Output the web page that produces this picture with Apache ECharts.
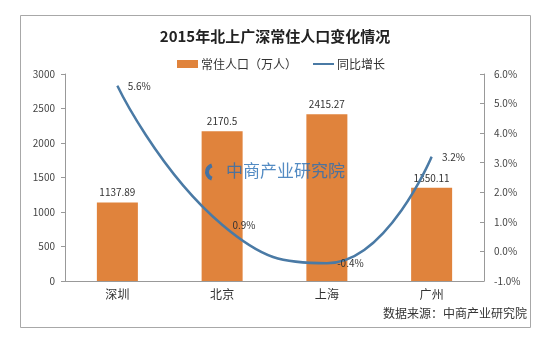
<!DOCTYPE html>
<html>
<head>
<meta charset="utf-8">
<script src="https://cdn.jsdelivr.net/npm/echarts@6/dist/echarts.min.js"></script>
<style>
  html, body { margin: 0; padding: 0; background: #fff; }
  #chart { width: 550px; height: 341px; }
</style>
</head>
<body>
<div id="chart"></div>
<script>
// 2015 resident population of the four first-tier cities and year-on-year growth
const cities = ['深圳', '北京', '上海', '广州'];
const population = [1137.89, 2170.5, 2415.27, 1350.11];   // 万人
const growth = [5.6, 0.9, -0.4, 3.2];                        // %
const popTicks = { min: 0, max: 3000, step: 500 };
const growthTicks = { min: -1, max: 6, step: 1 };

const FONT = '"Noto Sans CJK SC", "Microsoft YaHei", sans-serif';
const BAR_COLOR = '#e0833c';
const LINE_COLOR = '#4a7aa5';

const chart = echarts.init(document.getElementById('chart'), null, { renderer: 'canvas' });

chart.setOption({
  backgroundColor: '#fff',
  animation: false,
  textStyle: { fontFamily: FONT },
  title: {
    text: '2015年北上广深常住人口变化情况',
    left: 'center',
    top: 24,
    textStyle: { fontFamily: FONT, fontSize: 15, fontWeight: 'bold', color: '#222' }
  },
  legend: {
    top: 53,
    left: 172,
    itemGap: 16,
    itemWidth: 21,
    itemHeight: 8,
    textStyle: { fontFamily: FONT, fontSize: 12, color: '#333', padding: [0, 0, 0, -2] },
    data: [
      { name: '常住人口（万人）', icon: 'rect' },
      { name: '同比增长', icon: 'path://M0,4 L21,4 L21,6 L0,6 Z', itemStyle: { color: LINE_COLOR, opacity: 1 } }
    ]
  },
  grid: { left: 65, right: 66, top: 74, bottom: 60 },
  xAxis: {
    type: 'category',
    data: cities,
    axisLine: { lineStyle: { color: '#999' } },
    axisTick: { alignWithLabel: false, length: 4, lineStyle: { color: '#999' } },
    axisLabel: { fontFamily: FONT, fontSize: 12, color: '#333', margin: 7 }
  },
  yAxis: [
    {
      type: 'value',
      min: popTicks.min, max: popTicks.max, interval: popTicks.step,
      splitLine: { show: false },
      axisLine: { show: true, lineStyle: { color: '#999' } },
      axisTick: { show: true, length: 4, lineStyle: { color: '#999' } },
      axisLabel: {
        fontFamily: FONT, fontSize: 10, color: '#444', margin: 10,
        formatter: v => String(v)
      }
    },
    {
      type: 'value',
      position: 'right',
      min: growthTicks.min, max: growthTicks.max, interval: growthTicks.step,
      splitLine: { show: false },
      axisLine: { show: true, lineStyle: { color: '#999' } },
      axisTick: { show: true, inside: true, length: 4, lineStyle: { color: '#999' } },
      axisLabel: {
        fontFamily: FONT, fontSize: 10, color: '#444', margin: 10,
        formatter: v => v.toFixed(1) + '%'
      }
    }
  ],
  series: [
    {
      name: '常住人口（万人）',
      type: 'bar',
      yAxisIndex: 0,
      data: population,
      barWidth: 41,
      itemStyle: { color: BAR_COLOR },
      label: {
        show: true, position: 'top', distance: 5,
        fontFamily: FONT, fontSize: 10, color: '#333',
        formatter: p => String(p.value)
      },
      z: 2
    },
    {
      name: '同比增长',
      type: 'line',
      yAxisIndex: 1,
      data: growth,
      smooth: 0.5,
      symbol: 'circle',
      symbolSize: 0.5,
      showSymbol: true,
      lineStyle: { color: LINE_COLOR, width: 2.5 },
      itemStyle: { color: LINE_COLOR },
      label: {
        show: true, position: 'right', distance: 10,
        fontFamily: FONT, fontSize: 10, color: '#333',
        formatter: p => p.value.toFixed(1) + '%'
      },
      labelLayout: { hideOverlap: false },
      z: 4
    }
  ],
  graphic: [
    // outer frame
    {
      type: 'rect', silent: true, z: 0,
      shape: { x: 20.5, y: 15.5, width: 510, height: 312 },
      style: { fill: 'none', stroke: '#a8a8a8', lineWidth: 1 }
    },
    // source note
    {
      type: 'text', right: 23, top: 307, z: 10,
      style: { text: '数据来源：中商产业研究院', font: '12px ' + FONT, fill: '#333' }
    },
    // research institute mark across the middle of the plot
    {
      type: 'arc', z: 10, silent: true,
      shape: { cx: 214, cy: 172, r: 7, startAngle: Math.PI * 0.6, endAngle: Math.PI * 1.4 },
      style: { stroke: 'rgba(40,110,180,0.85)', lineWidth: 4, fill: 'none' }
    },
    {
      type: 'text', left: 226, top: 162, z: 10, silent: true,
      style: { text: '中商产业研究院', font: '17px ' + FONT, fill: 'rgba(40,110,180,0.8)' }
    }
  ]
});
</script>
</body>
</html>
